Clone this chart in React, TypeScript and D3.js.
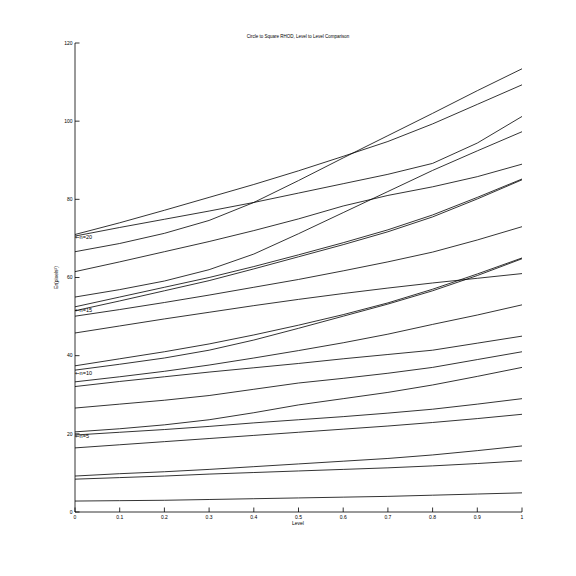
import React from 'react';
import * as d3 from 'd3';

// level values along x
const levels = [0, 0.1, 0.2, 0.3, 0.4, 0.5, 0.6, 0.7, 0.8, 0.9, 1];

// error curves
const curveA = [71.0, 74.0, 77.2, 80.5, 83.8, 87.3, 91.0, 94.8, 99.3, 104.3, 109.3];
const curveB = [70.6, 72.8, 74.9, 77.0, 79.2, 81.6, 84.0, 86.4, 89.2, 94.4, 101.2];
const curveC = [66.6, 68.7, 71.3, 74.6, 79.2, 84.8, 90.6, 96.3, 102.0, 107.8, 113.4];
const curveD = [61.5, 64.0, 66.6, 69.2, 72.0, 75.0, 78.3, 81.0, 83.2, 85.8, 89.0];
const curveE = [55.0, 56.9, 59.1, 62.0, 66.0, 71.2, 76.6, 82.0, 87.4, 92.4, 97.3];
const curveF = [52.5, 55.0, 57.5, 60.0, 62.8, 65.8, 68.9, 72.2, 76.0, 80.5, 85.2];
const curveG = [51.5, 54.0, 56.6, 59.2, 62.2, 65.3, 68.4, 71.7, 75.5, 80.1, 85.0];
const curveH = [50.1, 51.8, 53.6, 55.5, 57.5, 59.5, 61.7, 64.0, 66.5, 69.6, 73.0];
const curveI = [45.8, 47.6, 49.4, 51.1, 52.8, 54.4, 55.9, 57.3, 58.6, 59.8, 61.0];
const curveJ = [37.4, 39.2, 41.0, 43.0, 45.3, 47.8, 50.5, 53.5, 57.0, 60.9, 65.0];
const curveK = [36.3, 37.8, 39.4, 41.4, 44.0, 47.0, 50.1, 53.2, 56.6, 60.5, 64.8];
const curveL = [33.3, 34.6, 36.0, 37.6, 39.4, 41.3, 43.3, 45.5, 48.0, 50.4, 53.0];
const curveM = [32.1, 33.4, 34.6, 35.8, 36.9, 38.0, 39.2, 40.3, 41.4, 43.2, 45.0];
const curveN = [26.6, 27.6, 28.6, 29.8, 31.4, 33.0, 34.2, 35.5, 37.0, 39.0, 41.0];
const curveO = [20.5, 21.3, 22.3, 23.6, 25.4, 27.4, 29.0, 30.6, 32.5, 34.7, 37.0];
const curveP = [19.7, 20.4, 21.1, 21.9, 22.8, 23.6, 24.4, 25.3, 26.3, 27.6, 29.0];
const curveQ = [16.4, 17.2, 18.0, 18.8, 19.6, 20.4, 21.2, 22.0, 22.9, 23.9, 25.0];
const curveR = [9.2, 9.8, 10.3, 10.9, 11.6, 12.3, 13.0, 13.7, 14.6, 15.7, 16.9];
const curveS = [8.4, 8.8, 9.2, 9.7, 10.1, 10.5, 10.9, 11.3, 11.8, 12.4, 13.1];
const curveT = [2.8, 2.9, 3.0, 3.2, 3.4, 3.6, 3.8, 4.0, 4.3, 4.6, 4.9];

const curves = [
  curveA, curveB, curveC, curveD, curveE, curveF, curveG, curveH, curveI, curveJ,
  curveK, curveL, curveM, curveN, curveO, curveP, curveQ, curveR, curveS, curveT,
];

// "<- n=.." annotations at level 0
const noteLabels = ['n=20', 'n=15', 'n=10', 'n=5'];
const noteValues = [70.4, 51.7, 35.5, 19.4];

const xTicks = [0, 0.1, 0.2, 0.3, 0.4, 0.5, 0.6, 0.7, 0.8, 0.9, 1];
const yTicks = [0, 20, 40, 60, 80, 100, 120];

const FONT = 'Liberation Sans, Arial, sans-serif';

export default function App() {
  const x = d3.scaleLinear().domain([0, 1]).range([75, 522]);
  const y = d3.scaleLinear().domain([0, 120]).range([512, 43]);

  const line = d3.line<number>()
    .x((_, i) => x(levels[i]))
    .y(d => y(d));

  return (
    <svg width={576} height={576} style={{ position: 'absolute', left: 0, top: 0, background: '#fff' }}>
      <rect width={576} height={576} fill="#fff" />

      {/* curves */}
      <g fill="none" stroke="#000" strokeWidth={0.8}>
        {curves.map((c, i) => <path key={i} d={line(c) || ''} />)}
      </g>

      {/* axes */}
      <g stroke="#000" strokeWidth={0.8}>
        <line x1={x(0)} x2={x(0)} y1={y(0)} y2={y(120)} />
        <line x1={x(0)} x2={x(1)} y1={y(0)} y2={y(0)} />
        {xTicks.map(t => (
          <line key={'xt' + t} x1={x(t)} x2={x(t)} y1={y(0)} y2={y(0) - 4.5} />
        ))}
        {yTicks.map(t => (
          <line key={'yt' + t} x1={x(0)} x2={x(0) + 4.5} y1={y(t)} y2={y(t)} />
        ))}
      </g>

      <g fontFamily={FONT} fontSize={5} fill="#000">
        {xTicks.map(t => (
          <text key={'xl' + t} x={x(t)} y={y(0) + 7} textAnchor="middle">{String(t)}</text>
        ))}
        {yTicks.map(t => (
          <text key={'yl' + t} x={x(0) - 2.5} y={y(t) + 1.8} textAnchor="end">{String(t)}</text>
        ))}
        <text x={298} y={525} textAnchor="middle">Level</text>
        <text transform={`translate(58,${y(60)}) rotate(-90)`} textAnchor="middle">Er(pixels²)</text>
        <text x={298} y={38} textAnchor="middle" fontSize={4.5}>Circle to Square RHOD, Level to Level Comparison</text>
        {noteLabels.map((lab, i) => (
          <text key={lab} x={x(0)} y={y(noteValues[i]) + 2} fontSize={5.5}>
            <tspan fontFamily="DejaVu Sans">{'\u2190'}</tspan>
            {lab}
          </text>
        ))}
      </g>
    </svg>
  );
}
